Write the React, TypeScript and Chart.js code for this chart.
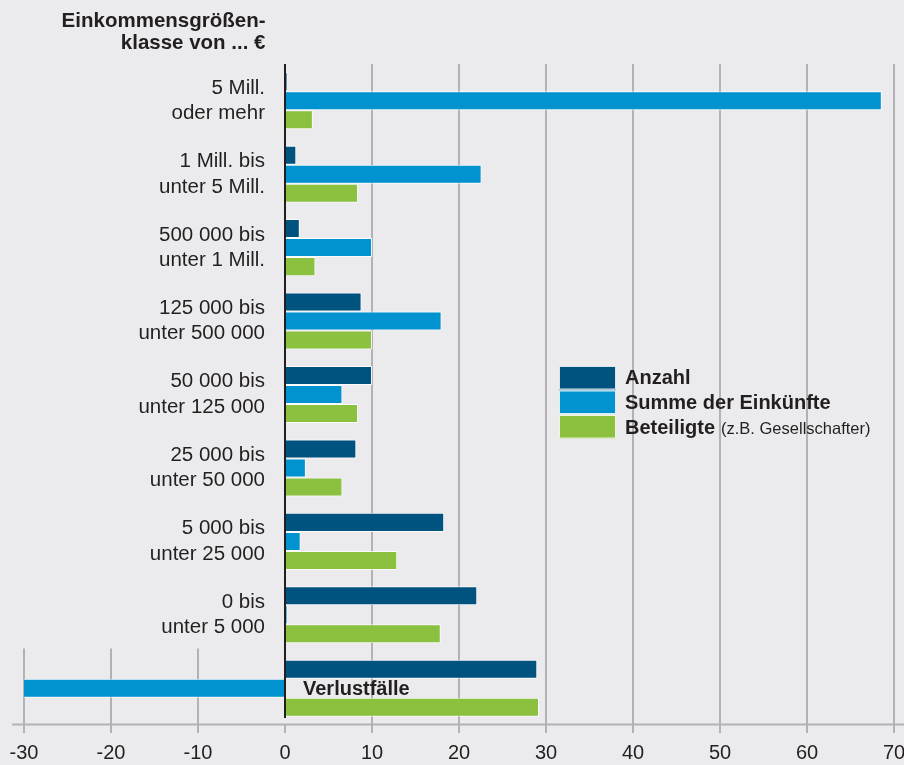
import React, { useEffect, useRef } from 'react';
import { Chart, registerables } from 'chart.js';

Chart.register(...registerables);

const FONT = '"Liberation Sans", Arial, Helvetica, sans-serif';

const titleLines = ['Einkommensgrößen-', 'klasse von ... €'];
const categories: (string | string[])[] = [
  ['5 Mill.', 'oder mehr'],
  ['1 Mill. bis', 'unter 5 Mill.'],
  ['500 000 bis', 'unter 1 Mill.'],
  ['125 000 bis', 'unter 500 000'],
  ['50 000 bis', 'unter 125 000'],
  ['25 000 bis', 'unter 50 000'],
  ['5 000 bis', 'unter 25 000'],
  ['0 bis', 'unter 5 000'],
  '',
];
const lossLabel = 'Verlustfälle';
const seriesNames = ['Anzahl', 'Summe der Einkünfte', 'Beteiligte'];
const legendNote = '(z.B. Gesellschafter)';
const anzahl = [0.3, 1.3, 1.7, 8.8, 10.0, 8.2, 18.3, 22.1, 29.0];
const summe = [68.6, 22.6, 10.0, 18.0, 6.6, 2.4, 1.8, 0.3, -30.4];
const beteiligte = [3.2, 8.4, 3.5, 10.0, 8.4, 6.6, 12.9, 17.9, 29.2];
const xTickValues = [-30, -20, -10, 0, 10, 20, 30, 40, 50, 60, 70];

const COLORS = ['#00527f', '#0093cf', '#8cc03f'];
const BG = '#ebebed';
const GRID = '#b2b2b4';
const TEXT = '#231f20';

const decor = {
  id: 'decor',
  beforeDatasetsDraw(chart: any) {
    const { ctx, chartArea, scales } = chart;
    const x = scales.x;
    const y = scales.y;
    ctx.save();
    ctx.strokeStyle = GRID;
    ctx.lineWidth = 2;
    const lossTop = y.getPixelForValue(categories.length - 1.5) - 3;
    xTickValues.forEach((t) => {
      if (t === 0) return;
      const px = Math.round(x.getPixelForValue(t));
      const top = t < 0 ? lossTop : chartArea.top;
      ctx.beginPath();
      ctx.moveTo(px, top);
      ctx.lineTo(px, chartArea.bottom + 8);
      ctx.stroke();
    });
    ctx.beginPath();
    ctx.moveTo(12, chartArea.bottom - 0.5);
    ctx.lineTo(chart.width, chartArea.bottom - 0.5);
    ctx.stroke();
    const x0 = Math.round(x.getPixelForValue(0));
    ctx.beginPath();
    ctx.moveTo(x0, chartArea.bottom - 1);
    ctx.lineTo(x0, chartArea.bottom + 8);
    ctx.stroke();
    ctx.restore();
  },
  afterDatasetsDraw(chart: any) {
    const { ctx, chartArea, scales } = chart;
    const x = scales.x;
    const y = scales.y;
    ctx.save();
    const x0 = Math.round(x.getPixelForValue(0));
    ctx.strokeStyle = TEXT;
    ctx.lineWidth = 2;
    ctx.beginPath();
    ctx.moveTo(x0, chartArea.top);
    ctx.lineTo(x0, chartArea.bottom - 7);
    ctx.stroke();

    ctx.fillStyle = TEXT;
    ctx.font = `bold 20px ${FONT}`;
    ctx.textAlign = 'left';
    ctx.textBaseline = 'middle';
    ctx.fillText(lossLabel, x0 + 18, y.getPixelForValue(categories.length - 1) + 1);

    ctx.font = `bold 20.5px ${FONT}`;
    ctx.textAlign = 'right';
    ctx.textBaseline = 'alphabetic';
    ctx.fillText(titleLines[0], 265.5, 26.7);
    ctx.fillText(titleLines[1], 265.5, 49);

    const swY = [366, 390.5, 415];
    const baselines = [384.3, 409.3, 434.3];
    seriesNames.forEach((name, i) => {
      ctx.fillStyle = COLORS[i];
      ctx.fillRect(559, swY[i], 57, 23.5);
      ctx.strokeStyle = 'rgba(255,255,255,0.85)';
      ctx.lineWidth = 1;
      ctx.strokeRect(559.5, swY[i] + 0.5, 56, 22.5);
      ctx.fillStyle = TEXT;
      ctx.font = `bold 20px ${FONT}`;
      ctx.textAlign = 'left';
      ctx.fillText(name, 625, baselines[i]);
      if (i === 2) {
        const w = ctx.measureText(name).width;
        ctx.font = `16.5px ${FONT}`;
        ctx.fillText(legendNote, 625 + w + 6, baselines[i]);
      }
    });
    ctx.restore();
  },
};

export default function App() {
  const ref = useRef<HTMLCanvasElement | null>(null);
  useEffect(() => {
    document.body.style.margin = '0';
    document.body.style.background = BG;
    const canvas = ref.current;
    if (!canvas) return;
    const barStyle = (i: number) => ({
      backgroundColor: COLORS[i],
      borderColor: 'rgba(255,255,255,0.85)',
      borderWidth: 1,
      borderSkipped: 'start' as const,
      categoryPercentage: 0.777,
      barPercentage: 1,
    });
    const chart = new Chart(canvas, {
      type: 'bar',
      data: {
        labels: categories,
        datasets: [
          { label: seriesNames[0], data: anzahl, ...barStyle(0) },
          { label: seriesNames[1], data: summe, ...barStyle(1) },
          { label: seriesNames[2], data: beteiligte, ...barStyle(2) },
        ],
      },
      options: {
        indexAxis: 'y',
        responsive: false,
        maintainAspectRatio: false,
        animation: false,
        devicePixelRatio: 1,
        layout: { padding: { left: 24, right: 10, top: 64, bottom: 0 } },
        plugins: { legend: { display: false }, tooltip: { enabled: false }, title: { display: false } },
        scales: {
          x: {
            type: 'linear',
            min: -30,
            max: 70,
            grid: { display: false, drawTicks: false },
            border: { display: false },
            ticks: {
              stepSize: 10,
              padding: 16,
              color: TEXT,
              font: { family: FONT, size: 20 },
              maxRotation: 0,
              autoSkip: false,
            },
            afterFit: (scale: any) => {
              scale.height = 40;
              scale.paddingLeft = 0;
              scale.paddingRight = 0;
            },
          },
          y: {
            type: 'category',
            position: { x: -2.3 },
            grid: { display: false, drawTicks: false },
            border: { display: false },
            ticks: {
              padding: 0,
              color: TEXT,
              font: { family: FONT, size: 20.5, lineHeight: 1.24 },
              autoSkip: false,
            },
            afterFit: (scale: any) => {
              scale.paddingTop = 0;
              scale.paddingBottom = 0;
            },
          },
        },
      },
      plugins: [decor],
    });
    return () => chart.destroy();
  }, []);
  return (
    <div style={{ width: 904, height: 765, background: BG }}>
      <canvas ref={ref} width={904} height={765} style={{ display: 'block' }} />
    </div>
  );
}
